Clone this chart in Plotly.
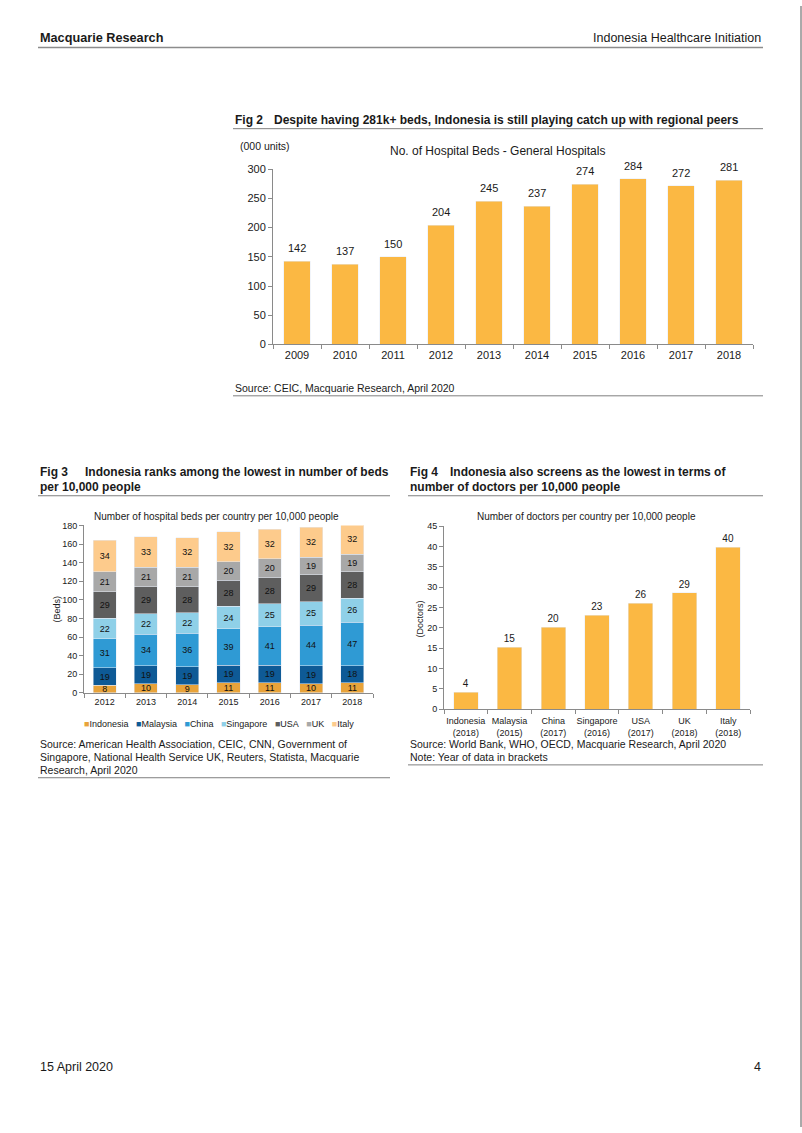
import plotly.graph_objects as go

W, H = 802, 1133
FONT = "Arial, Liberation Sans, sans-serif"


def X(p):
    return p / W


def Y(p):
    return 1 - p / H


# ---------------- data ----------------
bed_years = ["2009", "2010", "2011", "2012", "2013", "2014", "2015", "2016", "2017", "2018"]
beds_000 = [142, 137, 150, 204, 245, 237, 274, 284, 272, 281]

stack_years = ["2012", "2013", "2014", "2015", "2016", "2017", "2018"]
indonesia = [8, 10, 9, 11, 11, 10, 11]
malaysia = [19, 19, 19, 19, 19, 19, 18]
china = [31, 34, 36, 39, 41, 44, 47]
singapore = [22, 22, 22, 24, 25, 25, 26]
usa = [29, 29, 28, 28, 28, 29, 28]
uk = [21, 21, 21, 20, 20, 19, 19]
italy = [34, 33, 32, 32, 32, 32, 32]
stack_names = ["Indonesia", "Malaysia", "China", "Singapore", "USA", "UK", "Italy"]
stack_values = [indonesia, malaysia, china, singapore, usa, uk, italy]
stack_colors = ["#E8A33A", "#0E5A96", "#2F9AD4", "#8FD0E8", "#5E5E5E", "#A8A8A8", "#FDCB8C"]

doctor_countries = ["Indonesia<br>(2018)", "Malaysia<br>(2015)", "China<br>(2017)",
                    "Singapore<br>(2016)", "USA<br>(2017)", "UK<br>(2018)", "Italy<br>(2018)"]
doctors = [4.2, 15.2, 20.2, 23.1, 26.1, 28.6, 39.8]

BAR = "#FBB843"
AX = "#8A8A8A"
TXT = "#1a1a1a"

fig = go.Figure()

# Fig 2
fig.add_trace(go.Bar(x=bed_years, y=beds_000, marker_color=BAR, xaxis="x", yaxis="y",
                     showlegend=False))

# Fig 3
for name, vals, col in zip(stack_names, stack_values, stack_colors):
    fig.add_trace(go.Bar(x=stack_years, y=vals, name=name, marker_color=col,
                         xaxis="x2", yaxis="y2", text=vals, textposition="inside",
                         insidetextanchor="middle", constraintext="none", textangle=0,
                         textfont=dict(size=9, color="#111", family=FONT), showlegend=False))

# Fig 4
fig.add_trace(go.Bar(x=doctor_countries, y=doctors, marker_color=BAR, xaxis="x3", yaxis="y3",
                     texttemplate="%{y:.0f}", textposition="outside", cliponaxis=False,
                     textfont=dict(size=10, color=TXT, family=FONT), showlegend=False))


def xax(dom, anchor, size, n):
    return dict(type="category", domain=[X(dom[0]), X(dom[1])], anchor=anchor, showline=True,
                range=[-0.5, n - 0.5], linecolor=AX, linewidth=1, ticks="outside", ticklen=4,
                tickcolor=AX, tickson="boundaries", tickangle=0, showgrid=False,
                tickfont=dict(size=size, color=TXT, family=FONT), fixedrange=True)


def yax(dom, anchor, rng, dtick, size):
    return dict(domain=[Y(dom[1]), Y(dom[0])], anchor=anchor, range=rng, dtick=dtick,
                showline=True, linecolor=AX, linewidth=1, ticks="outside", ticklen=4,
                tickcolor=AX, showgrid=False, zeroline=False,
                tickfont=dict(size=size, color=TXT, family=FONT), fixedrange=True)


x3 = xax((444, 750), "y3", 9, len(doctor_countries))
x3["ticklabelstandoff"] = 3

fig.update_layout(
    width=W, height=H, margin=dict(l=0, r=0, t=0, b=0),
    paper_bgcolor="white", plot_bgcolor="white",
    barmode="stack", bargap=0.44,
    font=dict(family=FONT, color=TXT),
    xaxis=xax((273, 753), "y", 11, len(bed_years)),
    yaxis=yax((165, 342), "x", [0, 300], 50, 11),
    xaxis2=xax((84, 373), "y2", 9, len(stack_years)),
    yaxis2=yax((525, 694.3), "x2", [0, 180], 20, 9),
    xaxis3=x3,
    yaxis3=yax((525.7, 710.7), "x3", [0, 45], 5, 9),
)

ann = []

# Fig 2 data labels, placed through the data axes (category serial positions)
for i, v in enumerate(beds_000):
    ann.append(dict(x=i, y=v, xref="x", yref="y", text=str(v), showarrow=False,
                    xanchor="center", yanchor="bottom", yshift=5,
                    font=dict(size=11, color=TXT, family=FONT)))


def text(x, y, s, size, bold=False, xanchor="left", color=TXT, angle=0):
    ann.append(dict(x=X(x), y=Y(y), xref="paper", yref="paper", text=("<b>%s</b>" % s) if bold else s,
                    showarrow=False, xanchor=xanchor, yanchor="middle", textangle=angle,
                    font=dict(size=size, color=color, family=FONT)))


# header / footer
text(38, 32, "Macquarie Research", 12.7, bold=True)
text(763, 32, "Indonesia Healthcare Initiation", 12.5, xanchor="right")
text(38, 1072, "15 April 2020", 12.5)
text(763, 1072, "4", 12.5, xanchor="right")

# Fig 2
text(233, 115, "Fig 2", 12, bold=True)
text(272, 115, "Despite having 281k+ beds, Indonesia is still playing catch up with regional peers", 12, bold=True)
text(238, 141, "(000 units)", 10.5)
text(497, 147, "No. of Hospital Beds - General Hospitals", 12, xanchor="center")
text(233, 386, "Source: CEIC, Macquarie Research, April 2020", 10.5)

# Fig 3
text(38, 471, "Fig 3", 12, bold=True)
text(83, 471, "Indonesia ranks among the lowest in number of beds", 12, bold=True)
text(38, 486, "per 10,000 people", 12, bold=True)
text(216, 516, "Number of hospital beds per country per 10,000 people", 10, xanchor="center")
text(57, 610, "(Beds)", 9, xanchor="center", angle=-90)
legend_txt = "&nbsp;&nbsp;&nbsp;".join(
    "<span style='color:%s'>■</span>%s" % (c, n) for n, c in zip(stack_names, stack_colors))
text(219, 726, legend_txt, 9, xanchor="center")
text(38, 746, "Source: American Health Association, CEIC, CNN, Government of", 10.5)
text(38, 759, "Singapore, National Health Service UK, Reuters, Statista, Macquarie", 10.5)
text(38, 772, "Research, April 2020", 10.5)

# Fig 4
text(408, 471, "Fig 4", 12, bold=True)
text(448, 471, "Indonesia also screens as the lowest in terms of", 12, bold=True)
text(408, 486, "number of doctors per 10,000 people", 12, bold=True)
text(586, 516, "Number of doctors per country per 10,000 people", 10, xanchor="center")
text(420, 620, "(Doctors)", 9, xanchor="center", angle=-90)
text(408, 746, "Source: World Bank, WHO, OECD, Macquarie Research, April 2020", 10.5)
text(408, 759, "Note: Year of data in brackets", 10.5)

fig.update_layout(annotations=ann)

shapes = []


def hline(x0, x1, y, color="#7F7F7F", width=1):
    shapes.append(dict(type="line", xref="paper", yref="paper", x0=X(x0), x1=X(x1), y0=Y(y), y1=Y(y),
                       line=dict(color=color, width=width)))


hline(38, 763, 42, "#8C8C8C", 1.5)
hline(233, 763, 124)
hline(233, 763, 394)
hline(38, 390, 495)
hline(38, 390, 780)
hline(408, 763, 495)
hline(408, 763, 767)
shapes.append(dict(type="line", xref="paper", yref="paper", x0=X(801), x1=X(801), y0=0, y1=1,
                   line=dict(color="#555", width=1)))
fig.update_layout(shapes=shapes)

fig.write_html("out.html", config={"displayModeBar": False},
               post_script="document.body.style.margin='0';document.body.style.overflow='hidden';"
                           "document.documentElement.style.overflow='hidden';")
